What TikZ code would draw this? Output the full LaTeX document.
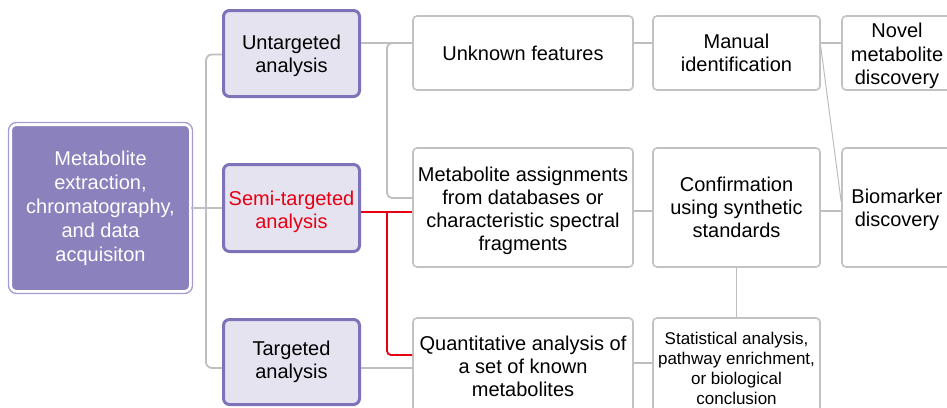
\documentclass[tikz,border=0pt]{standalone}
\usepackage{fontspec}
\setmainfont{Liberation Sans}
\definecolor{srcfill}{HTML}{8B81BC}
\definecolor{srcedge}{HTML}{A49CCE}
\definecolor{lavfill}{HTML}{E6E3F1}
\definecolor{lavedge}{HTML}{7D73B8}
\definecolor{linegray}{HTML}{BEBEBE}
\definecolor{boxgray}{HTML}{C2C2C2}
\definecolor{semired}{HTML}{E60012}
% lower one line of a node's text without changing the node's size
\newcommand\dropby[2]{\raisebox{-#1}[\height][\depth]{#2}}
\begin{document}
\begin{tikzpicture}[x=1pt,y=-1pt,
  base/.style={rectangle, rounded corners=4pt, inner sep=0pt, align=center,
    font=\fontsize{20}{23}\selectfont},
  srcbox/.style={base, rounded corners=6pt, fill=srcfill, draw=white, line width=3pt,
    outer sep=0pt, text=white, font=\fontsize{20}{24}\selectfont},
  srcframe/.style={draw=srcedge, line width=1.3pt, rounded corners=8pt},
  methodbox/.style={base, rounded corners=6pt, fill=lavfill, draw=lavedge, line width=3pt},
  stepbox/.style={base, fill=white, draw=boxgray, line width=1.6pt},
  link/.style={draw=linegray, line width=1.8pt},
  redlink/.style={draw=semired, line width=1.8pt},
  thinlink/.style={draw=linegray, line width=1pt}
]
\useasboundingbox (0,0) rectangle (947,407);

% source box
\node[srcbox, minimum width=180pt, minimum height=167pt] (src) at (100.5,208)
  {Metabolite\\extraction,\\chromatography,\\and data\\acquisiton};
\draw[srcframe] ([xshift=-2pt,yshift=2pt]src.north west) rectangle ([xshift=2pt,yshift=-2pt]src.south east);

% analysis types
\node[methodbox, minimum width=136pt, minimum height=86pt] (unt) at (291.5,53.5)
  {\dropby{2pt}{Untargeted}\\\dropby{2pt}{analysis}};
\node[methodbox, minimum width=136pt, minimum height=87pt, text=semired] (semi) at (291.5,208)
  {\dropby{4pt}{Semi-targeted}\\\dropby{4pt}{analysis}};
\node[methodbox, minimum width=136pt, minimum height=85pt] (tgt) at (291.5,362)
  {Targeted\\analysis};

% second column
\node[stepbox, minimum width=220pt, minimum height=74pt] (unk) at (523,53)
  {Unknown features};
\node[stepbox, minimum width=220pt, minimum height=119pt] (asg) at (523,207.5)
  {\dropby{3pt}{Metabolite assignments}\\\dropby{3pt}{from databases or}\\
   \dropby{3pt}{characteristic spectral}\\\dropby{3pt}{fragments}};
\node[stepbox, minimum width=220pt, minimum height=96pt] (qnt) at (523,366)
  {Quantitative analysis of\\a set of known\\metabolites};

% third column
\node[stepbox, minimum width=167pt, minimum height=74pt] (man) at (736.5,53)
  {Manual\\identification};
\node[stepbox, minimum width=167pt, minimum height=119pt] (conf) at (736.5,207.5)
  {Confirmation\\using synthetic\\standards};
\node[stepbox, minimum width=167pt, minimum height=100pt, font=\fontsize{17}{20}\selectfont] (stat) at (736.5,368)
  {Statistical analysis,\\pathway enrichment,\\or biological\\conclusion};

% outcomes
\node[stepbox, minimum width=110pt, minimum height=74pt, font=\fontsize{20}{23.5}\selectfont] (nov) at (897,53)
  {\dropby{3pt}{Novel}\\\dropby{3pt}{metabolite}\\\dropby{3pt}{discovery}};
\node[stepbox, minimum width=110pt, minimum height=119pt] (bio) at (897,207.5)
  {\dropby{2pt}{Biomarker}\\\dropby{2pt}{discovery}};

% connector levels
\coordinate (yTop) at (0,43);
\coordinate (yAsg) at (0,198);
\coordinate (ySemi) at (0,212);
\coordinate (yMid) at (0,211);
\coordinate (yQnt) at (0,355);
\coordinate (yLow) at (0,363);
\coordinate (yTgt) at (0,368);
\coordinate (trunk) at (206,208);
\coordinate (branch) at (387,0);
\coordinate (brtop) at (395,43);

% source to analysis types
\draw[link] (src.east) -- (semi.west);
\draw[link, rounded corners=6pt] ([yshift=-1pt]unt.west) -| (trunk) |- ([yshift=-6pt]tgt.west);

% analysis types to second column
\draw[link] (unt.east |- yTop) -- (unk.west |- yTop);
\draw[link, rounded corners=5pt] (brtop) -| (branch |- yAsg) -- (asg.west |- yAsg);
\draw[link] (tgt.east |- yTgt) -- (qnt.west |- yTgt);
\draw[redlink] (semi.east |- ySemi) -- (asg.west |- ySemi);
\draw[redlink, rounded corners=4pt] (branch |- ySemi) |- (qnt.west |- yQnt);

% second column onwards
\draw[link] (unk.east |- yTop) -- (man.west |- yTop);
\draw[link] (asg.east |- yMid) -- (conf.west |- yMid);
\draw[link] (qnt.east |- yLow) -- (stat.west |- yLow);
\draw[link] (man.east |- yTop) -- (nov.west |- yTop);
\draw[link] (conf.east |- yMid) -- (bio.west |- yMid);
\draw[link] (conf.south) -- (stat.north);
\draw[thinlink] ([yshift=6pt]man.east) -- ([yshift=5.5pt]bio.west);
\end{tikzpicture}
\end{document}
